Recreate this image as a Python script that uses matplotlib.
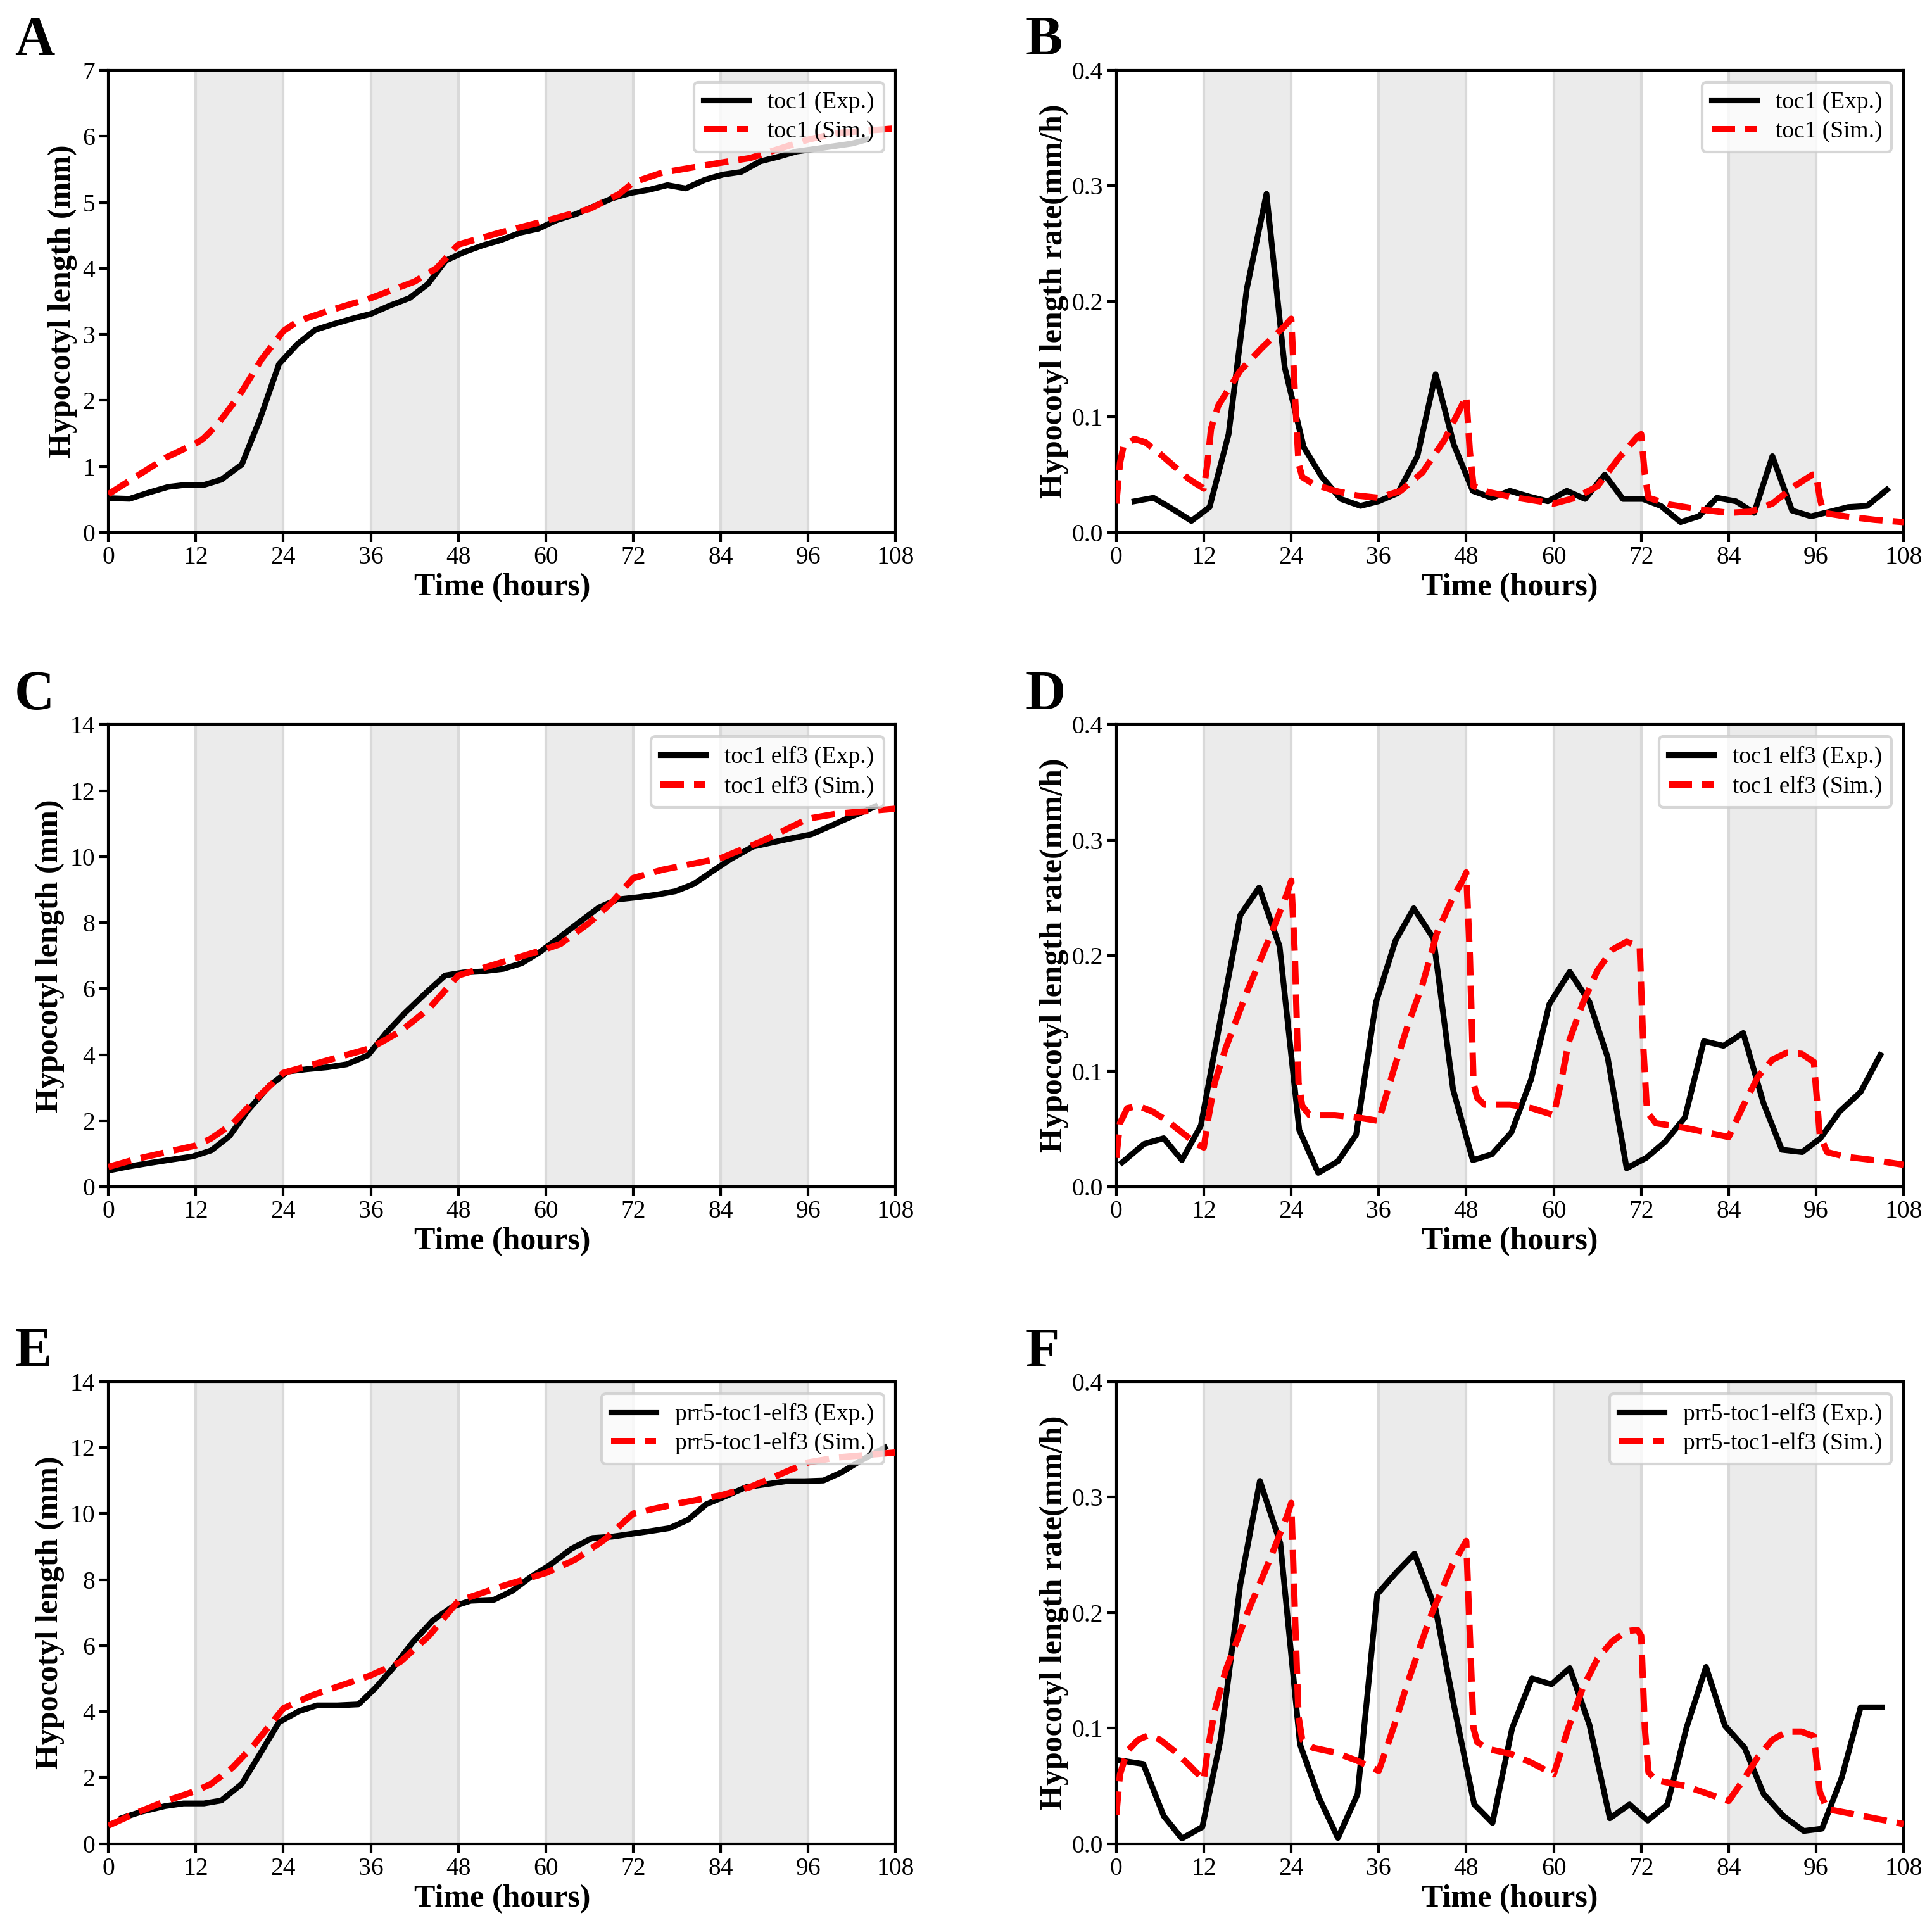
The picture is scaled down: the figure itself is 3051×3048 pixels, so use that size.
import matplotlib
matplotlib.use('Agg')
import matplotlib.pyplot as plt
from matplotlib.ticker import MultipleLocator, FormatStrFormatter

plt.rcParams['font.family'] = ['Liberation Serif', 'DejaVu Serif']
plt.rcParams['axes.linewidth'] = 1.0

# --- DATA: panel A (toc1 length) ---
t_a_exp = [0, 2.9, 5.7, 8.2, 10.5, 13.1, 15.5, 18.3, 20.8, 23.4, 25.9, 28.4, 31.0, 33.5,
           36.0, 38.7, 41.3, 43.8, 46.3, 48.9, 51.4, 53.9, 56.5, 59.0, 61.5, 64.1, 66.6,
           69.1, 71.6, 74.2, 76.7, 79.2, 81.8, 84.3, 86.8, 89.4, 91.9, 94.4, 97.0, 99.5,
           102.0, 104.0]
len_a_exp = [0.52, 0.51, 0.61, 0.69, 0.72, 0.72, 0.80, 1.03, 1.72, 2.55, 2.85, 3.07, 3.16,
             3.24, 3.31, 3.44, 3.55, 3.76, 4.12, 4.25, 4.35, 4.43, 4.54, 4.60, 4.73, 4.82,
             4.94, 5.06, 5.14, 5.19, 5.26, 5.21, 5.34, 5.42, 5.46, 5.62, 5.69, 5.77, 5.81,
             5.85, 5.89, 5.95]
t_a_sim = [0, 3, 6, 8, 12, 13, 15, 18, 21, 24, 26, 30, 36, 42, 45, 48, 54, 60, 66, 70, 72,
           76, 84, 88, 96, 100, 108]
len_a_sim = [0.58, 0.79, 1.0, 1.14, 1.35, 1.42, 1.64, 2.08, 2.62, 3.05, 3.2, 3.35, 3.55,
             3.8, 4.0, 4.36, 4.55, 4.72, 4.9, 5.12, 5.3, 5.45, 5.6, 5.67, 5.95, 6.05, 6.12]

# --- DATA: panel B (toc1 rate) ---
t_b_exp = [2.5, 5.1, 7.8, 10.3, 12.8, 15.4, 17.9, 20.6, 23.1, 25.7, 28.2, 30.8, 33.5, 36.0,
           38.6, 41.3, 43.8, 46.3, 48.9, 51.5, 54.0, 56.7, 59.2, 61.8, 64.3, 67.0, 69.5,
           72.2, 74.7, 77.4, 79.9, 82.4, 85.0, 87.5, 90.0, 92.7, 95.3, 97.9, 100.4, 103.0,
           105.7]
rate_b_exp = [0.027, 0.030, 0.020, 0.010, 0.022, 0.085, 0.211, 0.293, 0.143, 0.074, 0.048,
              0.029, 0.023, 0.027, 0.034, 0.066, 0.137, 0.076, 0.036, 0.030, 0.036, 0.031,
              0.027, 0.036, 0.029, 0.050, 0.029, 0.029, 0.023, 0.009, 0.014, 0.030, 0.027,
              0.017, 0.066, 0.019, 0.014, 0.018, 0.022, 0.023, 0.037]
t_b_sim = [0, 0.5, 1, 2.5, 4, 6, 8, 10, 12, 12.5, 13, 14, 15, 17, 20, 23, 24, 24.5, 25, 25.5,
           27, 30, 33, 36, 39, 42, 45, 47, 48, 48.5, 49, 51, 54, 57, 60, 63, 66, 69, 71.5,
           72, 72.5, 73, 76, 80, 84, 87, 90, 93, 95.5, 96, 96.5, 97, 100, 104, 108]
rate_b_sim = [0.025, 0.06, 0.075, 0.081, 0.078, 0.068, 0.057, 0.046, 0.038, 0.06, 0.09,
              0.11, 0.12, 0.14, 0.16, 0.178, 0.185, 0.12, 0.06, 0.048, 0.042, 0.036, 0.032,
              0.030, 0.036, 0.052, 0.08, 0.105, 0.118, 0.07, 0.04, 0.035, 0.031, 0.028,
              0.025, 0.03, 0.04, 0.065, 0.083, 0.085, 0.05, 0.03, 0.024, 0.02, 0.017, 0.018,
              0.025, 0.04, 0.05, 0.05, 0.03, 0.017, 0.014, 0.011, 0.009]

# --- DATA: panel C (toc1 elf3 length) ---
t_c_exp = [0, 2.7, 5.7, 8.6, 11.6, 14.1, 16.6, 19.2, 22.1, 24.6, 27.2, 30.1, 32.7, 35.6,
           38.1, 40.7, 43.6, 46.2, 48.7, 51.2, 54.2, 56.7, 59.2, 61.8, 64.7, 67.3, 69.8,
           72.7, 75.3, 77.8, 80.3, 82.9, 85.4, 88.4, 90.9, 93.4, 96.4, 98.9, 101.4, 104.0,
           105.2]
len_c_exp = [0.49, 0.61, 0.72, 0.82, 0.92, 1.1, 1.53, 2.33, 3.06, 3.49, 3.56, 3.62, 3.71,
             3.98, 4.66, 5.27, 5.88, 6.40, 6.49, 6.52, 6.60, 6.77, 7.11, 7.54, 8.03, 8.46,
             8.70, 8.77, 8.85, 8.95, 9.17, 9.56, 9.93, 10.3, 10.42, 10.54, 10.67, 10.91,
             11.16, 11.4, 11.52]
t_c_sim = [0, 4, 8, 12, 14, 17, 20, 24, 28, 32, 36, 40, 44, 48, 54, 60, 62, 66, 69, 72, 76,
           84, 90, 96, 100, 108]
len_c_sim = [0.6, 0.85, 1.05, 1.25, 1.45, 1.9, 2.6, 3.45, 3.7, 3.95, 4.2, 4.7, 5.4, 6.4,
             6.8, 7.2, 7.35, 8.0, 8.6, 9.35, 9.6, 9.95, 10.5, 11.15, 11.3, 11.45]

# --- DATA: panel D (toc1 elf3 rate) ---
t_d_exp = [0.8, 3.8, 6.5, 9.0, 11.6, 14.3, 17.0, 19.6, 22.4, 25.1, 27.7, 30.4, 32.9, 35.6,
           38.3, 40.8, 43.5, 46.2, 48.9, 51.5, 54.2, 56.9, 59.4, 62.2, 64.9, 67.4, 70.0,
           72.7, 75.3, 78.0, 80.6, 83.3, 86.0, 88.8, 91.3, 94.1, 96.6, 99.2, 102.1, 104.8]
rate_d_exp = [0.021, 0.037, 0.042, 0.023, 0.053, 0.145, 0.235, 0.259, 0.208, 0.049, 0.012,
              0.022, 0.045, 0.159, 0.213, 0.241, 0.215, 0.084, 0.023, 0.028, 0.047, 0.093,
              0.158, 0.186, 0.160, 0.112, 0.016, 0.025, 0.039, 0.060, 0.126, 0.122, 0.133,
              0.072, 0.032, 0.030, 0.042, 0.065, 0.082, 0.114]
t_d_sim = [0, 0.5, 1.5, 3, 5, 7, 9, 11, 12, 12.5, 13.5, 15, 18, 21, 23.5, 24, 24.5, 25, 25.5,
           26.5, 30, 33, 36, 38, 40, 42, 44, 46, 47.5, 48, 48.5, 49, 49.5, 50.5, 54, 57, 60,
           61, 62, 64, 66, 68, 70, 71.8, 72.3, 72.8, 74, 78, 84, 86, 88, 90, 92, 94, 95.7,
           96.5, 97.5, 100, 104, 108]
rate_d_sim = [0.025, 0.055, 0.068, 0.07, 0.065, 0.057, 0.047, 0.037, 0.034, 0.055, 0.09,
              0.12, 0.17, 0.215, 0.255, 0.265, 0.2, 0.09, 0.07, 0.062, 0.062, 0.06, 0.057,
              0.1, 0.14, 0.175, 0.22, 0.248, 0.265, 0.272, 0.2, 0.09, 0.077, 0.071, 0.071,
              0.068, 0.062, 0.09, 0.124, 0.159, 0.187, 0.205, 0.212, 0.208, 0.12, 0.065,
              0.055, 0.051, 0.043, 0.07, 0.095, 0.11, 0.116, 0.115, 0.108, 0.045, 0.03,
              0.026, 0.023, 0.019]

# --- DATA: panel E (prr5-toc1-elf3 length) ---
t_e_exp = [1.9, 4.4, 7.8, 10.3, 13.1, 15.5, 18.3, 20.8, 23.4, 26.1, 28.6, 31.4, 34.3, 36.6,
           39.0, 41.7, 44.5, 47.2, 49.7, 52.9, 55.4, 58.0, 60.5, 63.5, 66.4, 69.1, 71.9,
           74.4, 77.0, 79.5, 82.0, 84.6, 87.5, 90.0, 93.0, 95.5, 98.1, 100.6, 103.1, 106.5]
len_e_exp = [0.78, 0.96, 1.14, 1.22, 1.22, 1.31, 1.81, 2.72, 3.68, 4.01, 4.19, 4.19, 4.22,
             4.71, 5.31, 6.09, 6.76, 7.18, 7.36, 7.39, 7.66, 8.09, 8.43, 8.93, 9.26, 9.30,
             9.39, 9.47, 9.56, 9.81, 10.28, 10.52, 10.8, 10.88, 10.98, 10.98, 11.0, 11.25,
             11.59, 12.0]
t_e_sim = [0, 4, 8, 12, 14, 17, 20, 24, 28, 32, 36, 40, 44, 48, 54, 60, 64, 68, 72, 78, 84,
           88, 96, 100, 108]
len_e_sim = [0.55, 0.95, 1.3, 1.6, 1.8, 2.3, 3.0, 4.1, 4.5, 4.8, 5.1, 5.5, 6.3, 7.35, 7.8,
             8.2, 8.6, 9.2, 10.0, 10.3, 10.55, 10.8, 11.55, 11.7, 11.85]

# --- DATA: panel F (prr5-toc1-elf3 rate) ---
t_f_exp = [0.6, 3.7, 6.5, 9.0, 11.8, 14.3, 17.0, 19.7, 22.5, 25.2, 27.8, 30.4, 33.1, 35.8,
           38.3, 40.9, 43.8, 46.4, 49.1, 51.6, 54.3, 57.0, 59.7, 62.2, 64.9, 67.7, 70.4,
           72.9, 75.6, 78.2, 80.9, 83.5, 86.2, 88.8, 91.5, 94.3, 96.8, 99.5, 102.1, 105.0]
rate_f_exp = [0.072, 0.069, 0.024, 0.0045, 0.0145, 0.090, 0.224, 0.314, 0.260, 0.086, 0.040,
              0.005, 0.043, 0.216, 0.234, 0.251, 0.203, 0.117, 0.034, 0.018, 0.100, 0.143,
              0.138, 0.152, 0.103, 0.022, 0.034, 0.020, 0.034, 0.100, 0.153, 0.102, 0.083,
              0.043, 0.024, 0.011, 0.013, 0.057, 0.118, 0.118]
t_f_sim = [0, 0.5, 1.5, 3, 4.5, 6, 8, 10, 12, 12.5, 13.5, 15, 18, 21, 23.5, 24, 24.5, 25,
           25.5, 27, 30, 33, 36, 38, 40, 43, 46, 48, 48.5, 49, 49.5, 51, 54, 57, 60, 62, 64,
           66, 68, 70, 71.5, 72, 72.5, 73, 74, 78, 84, 86, 88, 90, 92, 94, 95.7, 96.5, 97.5,
           100, 104, 108]
rate_f_sim = [0.025, 0.06, 0.08, 0.09, 0.094, 0.09, 0.08, 0.068, 0.055, 0.08, 0.115, 0.15,
              0.2, 0.245, 0.285, 0.295, 0.2, 0.11, 0.09, 0.083, 0.079, 0.072, 0.063, 0.1,
              0.14, 0.195, 0.24, 0.262, 0.18, 0.1, 0.088, 0.082, 0.078, 0.07, 0.06, 0.1,
              0.135, 0.16, 0.175, 0.184, 0.185, 0.18, 0.1, 0.062, 0.055, 0.05, 0.037, 0.055,
              0.075, 0.09, 0.097, 0.097, 0.093, 0.045, 0.03, 0.027, 0.022, 0.017]

dark_periods = [(12, 24), (36, 48), (60, 72), (84, 96)]
x_ticks = [0, 12, 24, 36, 48, 60, 72, 84, 96, 108]


def draw_panel(ax, t_exp, y_exp, t_sim, y_sim, name, letter, is_rate, ymax, ystep):
    for a, b in dark_periods:
        ax.axvspan(a, b, facecolor='#ebebeb', edgecolor='#d9d9d9', lw=1.0, zorder=0)
    ax.plot(t_exp, y_exp, color='black', lw=2.2, label=name + ' (Exp.)', zorder=3)
    ax.plot(t_sim, y_sim, color='red', lw=2.4, ls='--', label=name + ' (Sim.)', zorder=3)
    ax.set_xlim(0, 108)
    ax.set_ylim(0, ymax)
    ax.set_xticks(x_ticks)
    ax.yaxis.set_major_locator(MultipleLocator(ystep))
    if is_rate:
        ax.yaxis.set_major_formatter(FormatStrFormatter('%.1f'))
        ax.set_ylabel('Hypocotyl length rate(mm/h)', fontsize=12, fontweight='bold',
                      labelpad=1)
        letter_x = -0.115
    else:
        ax.set_ylabel('Hypocotyl length (mm)', fontsize=12, fontweight='bold', labelpad=2)
        letter_x = -0.119
    ax.set_xlabel('Time (hours)', fontsize=12, fontweight='bold', labelpad=1.5)
    ax.tick_params(direction='out', length=3.5, width=1.0, labelsize=9.5, pad=1.5)
    ax.legend(loc='upper right', fontsize=9, labelspacing=0.3, borderpad=0.4,
              handlelength=1.9, framealpha=0.8, edgecolor='#cccccc')
    ax.text(letter_x, 1.063, letter, transform=ax.transAxes,
            fontsize=21, fontweight='bold', va='center', ha='left')


fig = plt.figure(figsize=(10.17, 10.16), dpi=300)

lefts = [0.0561, 0.5778]
bottoms = [0.7241, 0.3851, 0.0447]
w, h = 0.4075, 0.2395

panels = [
    (t_a_exp, len_a_exp, t_a_sim, len_a_sim, 'toc1', 'A', False, 7, 1),
    (t_b_exp, rate_b_exp, t_b_sim, rate_b_sim, 'toc1', 'B', True, 0.4, 0.1),
    (t_c_exp, len_c_exp, t_c_sim, len_c_sim, 'toc1 elf3', 'C', False, 14, 2),
    (t_d_exp, rate_d_exp, t_d_sim, rate_d_sim, 'toc1 elf3', 'D', True, 0.4, 0.1),
    (t_e_exp, len_e_exp, t_e_sim, len_e_sim, 'prr5-toc1-elf3', 'E', False, 14, 2),
    (t_f_exp, rate_f_exp, t_f_sim, rate_f_sim, 'prr5-toc1-elf3', 'F', True, 0.4, 0.1),
]

for i, p in enumerate(panels):
    ax = fig.add_axes([lefts[i % 2], bottoms[i // 2], w, h])
    draw_panel(ax, *p)

fig.savefig('out.png', dpi=300)
